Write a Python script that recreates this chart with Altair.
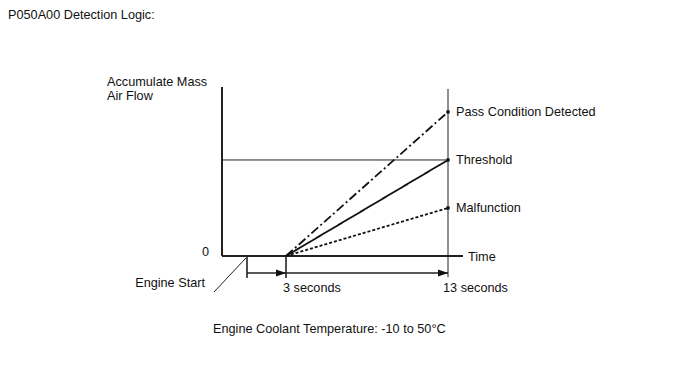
import altair as alt
import pandas as pd

# ---- data (diagram units: x = horizontal diagram position, y = accumulated MAF relative to threshold) ----
series_names = ["Pass Condition Detected", "Threshold", "Malfunction"]
series_end = [1.5, 1.0, 0.5]
series_dash = [[9, 3, 2, 3], [1, 0], [3, 2]]

time_labels = ["Engine Start", "3 seconds", "13 seconds"]
time_pos = [25, 64, 226]          # engine start, 3 s, 13 s
x_axis_end = 241
y_axis_top = 1.76
threshold = 1.0

FONT = "Liberation Sans"
FS = 12.7
INK = "#111111"

xs = alt.X("x:Q", scale=alt.Scale(domain=[0, x_axis_end]), axis=None)
ys = alt.Y("y:Q", scale=alt.Scale(domain=[0, y_axis_top]), axis=None)

t_start, t3, t13 = time_pos
arrow_y = -0.177

rules = pd.DataFrame([
    dict(x=0, x2=0, y=0, y2=y_axis_top, w=2.0),                # y axis
    dict(x=0, x2=x_axis_end, y=0, y2=0, w=2.0),                # x axis
    dict(x=0, x2=t13, y=threshold, y2=threshold, w=1.0),       # threshold line
    dict(x=t13, x2=t13, y=-0.22, y2=1.74, w=1.0),              # 13 s vertical
    dict(x=t_start, x2=t_start, y=-0.23, y2=0, w=1.6),         # engine start tick
    dict(x=t3, x2=t3, y=-0.23, y2=0, w=1.6),                   # 3 s tick
    dict(x=t_start, x2=t3, y=arrow_y, y2=arrow_y, w=1.5),      # arrow 1
    dict(x=t3, x2=t13, y=arrow_y, y2=arrow_y, w=1.5),          # arrow 2
    dict(x=24, x2=-8, y=-0.02, y2=-0.375, w=1.0),              # engine start leader
])

rule_layer = alt.Chart(rules).mark_rule(color="#222222").encode(
    x=xs, x2="x2:Q", y=ys, y2="y2:Q",
    strokeWidth=alt.StrokeWidth("w:Q", scale=None),
)

heads = pd.DataFrame({"x": [t3, t13], "y": [arrow_y, arrow_y]})
head_layer = alt.Chart(heads).mark_point(
    shape="M0,0L-2,-0.7L-2,0.7Z", filled=True, size=100, color="#111111", opacity=1
).encode(x=xs, y=ys)

layers = [rule_layer, head_layer]

for name, end, dash in zip(series_names, series_end, series_dash):
    df = pd.DataFrame({"x": [t3, t13], "y": [0, end]})
    layers.append(
        alt.Chart(df).mark_line(color="#111111", strokeWidth=1.8, strokeDash=dash).encode(x=xs, y=ys)
    )

ends = pd.DataFrame({"x": [t13] * 3, "y": series_end, "label": series_names})
layers.append(alt.Chart(ends).mark_circle(size=14, color="#111111", opacity=1).encode(x=xs, y=ys))
layers.append(
    alt.Chart(ends).mark_text(align="left", baseline="alphabetic", dx=8, dy=4,
                              font=FONT, fontSize=FS, color=INK)
    .encode(x=xs, y=ys, text="label:N")
)

texts = pd.DataFrame([
    dict(t="P050A00 Detection Logic:", x=-214, y=2.47, a="left"),
    dict(t="Accumulate Mass", x=-115, y=1.771, a="left"),
    dict(t="Air Flow", x=-115, y=1.625, a="left"),
    dict(t="0", x=-13, y=0.0, a="right"),
    dict(t="Time", x=246, y=-0.052, a="left"),
    dict(t=time_labels[0], x=-17, y=-0.323, a="right"),
    dict(t=time_labels[1], x=61, y=-0.375, a="left"),
    dict(t=time_labels[2], x=221, y=-0.375, a="left"),
    dict(t="Engine Coolant Temperature: -10 to 50°C", x=-9, y=-0.802, a="left"),
])

for align in ["left", "right"]:
    sub = texts[texts["a"] == align]
    layers.append(
        alt.Chart(sub).mark_text(align=align, baseline="alphabetic",
                                 font=FONT, fontSize=FS, color=INK)
        .encode(x=xs, y=ys, text="t:N")
    )

chart = alt.layer(*layers).properties(
    width=241, height=169,
    padding={"left": 214, "top": 79, "right": 217, "bottom": 102},
    autosize="none",
    background="white",
).configure_view(stroke=None)

chart.save("out.html", embed_options={"renderer": "svg", "actions": False})
